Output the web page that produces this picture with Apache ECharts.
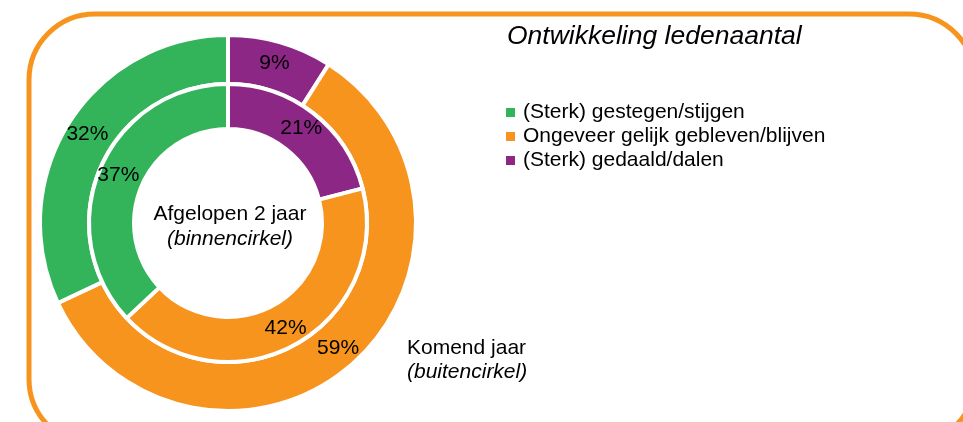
<!DOCTYPE html>
<html>
<head>
<meta charset="utf-8">
<script src="https://cdn.jsdelivr.net/npm/echarts@6/dist/echarts.min.js"></script>
<style>
  html, body { margin: 0; padding: 0; background: #fff; }
  #main { width: 963px; height: 422px; }
</style>
</head>
<body>
<div id="main"></div>
<script>
// categories in legend order
const categories = ['(Sterk) gestegen/stijgen', 'Ongeveer gelijk gebleven/blijven', '(Sterk) gedaald/dalen'];
const colors = ['#33B45B', '#F7941E', '#8C2786'];
// percentages per category (same order as categories)
const inner = [37, 42, 21]; // afgelopen 2 jaar
const outer = [32, 59, 9];  // komend jaar

// clockwise from 12 o'clock: gedaald, gelijk, gestegen
const drawOrder = [2, 1, 0];
const toData = vals => drawOrder.map(i => ({
  name: categories[i],
  value: vals[i],
  itemStyle: { color: colors[i] }
}));

const chart = echarts.init(document.getElementById('main'));
const font = '"Liberation Sans", Arial, sans-serif';

const ringLabel = {
  show: true,
  position: 'inside',
  formatter: '{c}%',
  color: '#000',
  fontSize: 21,
  fontFamily: font
};

chart.setOption({
  animation: false,
  title: {
    text: 'Ontwikkeling ledenaantal',
    left: 507,
    top: 23,
    padding: 0,
    textStyle: { fontSize: 26.5, fontStyle: 'italic', fontWeight: 'normal', color: '#000', fontFamily: font }
  },
  legend: {
    orient: 'vertical',
    left: 506,
    top: 102,
    padding: 0,
    icon: 'rect',
    itemWidth: 9,
    itemHeight: 9,
    itemGap: 3,
    itemStyle: { borderWidth: 0 },
    data: categories,
    textStyle: { fontSize: 21, color: '#000', fontFamily: font, padding: [0, 0, 0, 3] }
  },
  graphic: [
    {
      type: 'rect',
      shape: { x: 29, y: 14, width: 946, height: 431, r: 66 },
      style: { fill: 'none', stroke: '#F7941E', lineWidth: 5 },
      z: -1
    },
    {
      type: 'text', x: 230, y: 214,
      style: { text: 'Afgelopen 2 jaar', font: '21px ' + font, fill: '#000', textAlign: 'center', textVerticalAlign: 'middle' }
    },
    {
      type: 'text', x: 230, y: 239,
      style: { text: '(binnencirkel)', font: 'italic 21px ' + font, fill: '#000', textAlign: 'center', textVerticalAlign: 'middle' }
    },
    {
      type: 'text', x: 407, y: 348,
      style: { text: 'Komend jaar', font: '21px ' + font, fill: '#000', textAlign: 'left', textVerticalAlign: 'middle' }
    },
    {
      type: 'text', x: 407, y: 372,
      style: { text: '(buitencirkel)', font: 'italic 21px ' + font, fill: '#000', textAlign: 'left', textVerticalAlign: 'middle' }
    }
  ],
  series: [
    {
      name: 'Komend jaar',
      type: 'pie',
      center: [228, 223],
      radius: [139, 188],
      startAngle: 90,
      clockwise: true,
      silent: true,
      itemStyle: { borderColor: '#fff', borderWidth: 4 },
      label: ringLabel,
      labelLine: { show: false },
      data: toData(outer)
    },
    {
      name: 'Afgelopen 2 jaar',
      type: 'pie',
      center: [228, 223],
      radius: [94, 139],
      startAngle: 90,
      clockwise: true,
      silent: true,
      itemStyle: { borderColor: '#fff', borderWidth: 4 },
      label: ringLabel,
      labelLine: { show: false },
      data: toData(inner)
    }
  ]
});
</script>
</body>
</html>
